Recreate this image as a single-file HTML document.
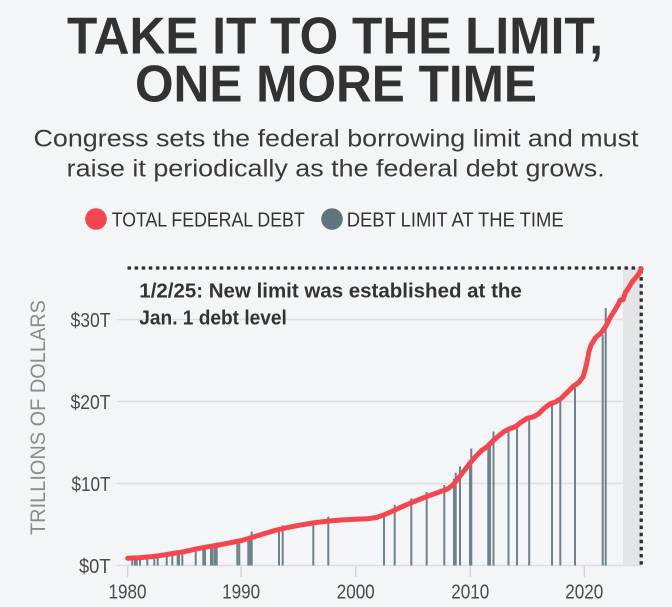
<!DOCTYPE html>
<html><head><meta charset="utf-8"><style>
html,body{margin:0;padding:0;background:#f4f5f7;}
svg{display:block;}
text{font-family:"Liberation Sans",sans-serif;}
</style></head><body>
<svg width="672" height="607" viewBox="0 0 672 607" xmlns="http://www.w3.org/2000/svg">
<rect width="672" height="607" fill="#f4f5f7"/>
<!-- Title -->
<text x="67" y="53.5" font-size="52" font-weight="bold" fill="#323232" textLength="536" lengthAdjust="spacingAndGlyphs">TAKE IT TO THE LIMIT,</text>
<text x="135" y="101.5" font-size="52" font-weight="bold" fill="#323232" textLength="402" lengthAdjust="spacingAndGlyphs">ONE MORE TIME</text>
<!-- Subtitle -->
<text x="33.5" y="146.7" font-size="24.5" fill="#3a3a3a" textLength="605" lengthAdjust="spacingAndGlyphs">Congress sets the federal borrowing limit and must</text>
<text x="66.7" y="176.7" font-size="24.5" fill="#3a3a3a" textLength="538" lengthAdjust="spacingAndGlyphs">raise it periodically as the federal debt grows.</text>
<!-- Legend -->
<circle cx="96" cy="219" r="10.8" fill="#f5464f"/>
<text x="111.7" y="226.7" font-size="20.5" fill="#333" textLength="193" lengthAdjust="spacingAndGlyphs">TOTAL FEDERAL DEBT</text>
<circle cx="332" cy="219" r="10.8" fill="#5f747c"/>
<text x="346.7" y="226.7" font-size="20.5" fill="#333" textLength="217" lengthAdjust="spacingAndGlyphs">DEBT LIMIT AT THE TIME</text>

<!-- Shaded area -->
<rect x="623" y="268" width="18.4" height="297.5" fill="#e4e5e6"/>
<!-- Gridlines -->
<g stroke="#dcdee1" stroke-width="1.5">
<line x1="116.7" y1="319.5" x2="623" y2="319.5"/>
<line x1="116.7" y1="401.5" x2="623" y2="401.5"/>
<line x1="116.7" y1="483.5" x2="623" y2="483.5"/>
<line x1="116.7" y1="565.5" x2="641" y2="565.5"/>
</g>
<!-- X ticks -->
<g stroke="#d3d6d9" stroke-width="1.5">
<line x1="127.7" y1="566" x2="127.7" y2="577"/>
<line x1="241.1" y1="566" x2="241.1" y2="577"/>
<line x1="355.7" y1="566" x2="355.7" y2="577"/>
<line x1="470.3" y1="566" x2="470.3" y2="577"/>
<line x1="584.3" y1="566" x2="584.3" y2="577"/>
</g>
<!-- Y tick labels -->
<g font-size="20.5" fill="#4a4a4a" text-anchor="end">
<text x="110.5" y="327" textLength="40" lengthAdjust="spacingAndGlyphs">$30T</text>
<text x="110.5" y="409" textLength="40" lengthAdjust="spacingAndGlyphs">$20T</text>
<text x="110.5" y="491" textLength="39" lengthAdjust="spacingAndGlyphs">$10T</text>
<text x="110.5" y="573" textLength="31.5" lengthAdjust="spacingAndGlyphs">$0T</text>
</g>
<!-- X labels -->
<g font-size="20.5" fill="#4a4a4a" text-anchor="middle">
<text x="127.5" y="598.3" textLength="38" lengthAdjust="spacingAndGlyphs">1980</text>
<text x="241.1" y="598.3" textLength="38" lengthAdjust="spacingAndGlyphs">1990</text>
<text x="355.7" y="598.3" textLength="38" lengthAdjust="spacingAndGlyphs">2000</text>
<text x="470.3" y="598.3" textLength="38" lengthAdjust="spacingAndGlyphs">2010</text>
<text x="584.3" y="598.3" textLength="38" lengthAdjust="spacingAndGlyphs">2020</text>
</g>
<!-- Y axis title -->
<text transform="translate(45,417.5) rotate(-90)" x="0" y="0" font-size="21" fill="#8a8c8e" text-anchor="middle" textLength="235" lengthAdjust="spacingAndGlyphs">TRILLIONS OF DOLLARS</text>

<!-- Debt limit bars -->
<g stroke="#6d8289" stroke-width="2">
<line x1="132.3" y1="565.5" x2="132.3" y2="557.9"/>
<line x1="135" y1="565.5" x2="135" y2="557.8"/>
<line x1="136.7" y1="565.5" x2="136.7" y2="557.4"/>
<line x1="140" y1="565.5" x2="140" y2="556.7"/>
<line x1="147.3" y1="565.5" x2="147.3" y2="556.1"/>
<line x1="154.3" y1="565.5" x2="154.3" y2="554.9"/>
<line x1="157.7" y1="565.5" x2="157.7" y2="554.1"/>
<line x1="166.7" y1="565.5" x2="166.7" y2="553.3"/>
<line x1="172.3" y1="565.5" x2="172.3" y2="553.0"/>
<line x1="177.7" y1="565.5" x2="177.7" y2="552.6"/>
<line x1="179" y1="565.5" x2="179" y2="552.0"/>
<line x1="182.3" y1="565.5" x2="182.3" y2="550.5"/>
<line x1="195.7" y1="565.5" x2="195.7" y2="548.5"/>
<line x1="203.3" y1="565.5" x2="203.3" y2="548.2"/>
<line x1="205" y1="565.5" x2="205" y2="546.6"/>
<line x1="211" y1="565.5" x2="211" y2="546.5"/>
<line x1="212.7" y1="565.5" x2="212.7" y2="546.2"/>
<line x1="215" y1="565.5" x2="215" y2="543.5"/>
<line x1="216.7" y1="565.5" x2="216.7" y2="542.5"/>
<line x1="237.3" y1="565.5" x2="237.3" y2="542.0"/>
<line x1="239.3" y1="565.5" x2="239.3" y2="539.9"/>
<line x1="248.3" y1="565.5" x2="248.3" y2="539.3"/>
<line x1="250" y1="565.5" x2="250" y2="539.0"/>
<line x1="251.7" y1="565.5" x2="251.7" y2="531.5"/>
<line x1="279" y1="565.5" x2="279" y2="529.7"/>
<line x1="282.7" y1="565.5" x2="282.7" y2="525.3"/>
<line x1="313.3" y1="565.5" x2="313.3" y2="520.4"/>
<line x1="328.3" y1="565.5" x2="328.3" y2="516.7"/>
<line x1="384" y1="565.5" x2="384" y2="513.5"/>
<line x1="394.7" y1="565.5" x2="394.7" y2="505.0"/>
<line x1="411.3" y1="565.5" x2="411.3" y2="498.4"/>
<line x1="426.7" y1="565.5" x2="426.7" y2="492.0"/>
<line x1="444.3" y1="565.5" x2="444.3" y2="485.0"/>
<line x1="454" y1="565.5" x2="454" y2="478.5"/>
<line x1="455.7" y1="565.5" x2="455.7" y2="472.7"/>
<line x1="460" y1="565.5" x2="460" y2="466.5"/>
<line x1="470" y1="565.5" x2="470" y2="463.9"/>
<line x1="471.3" y1="565.5" x2="471.3" y2="448.5"/>
<line x1="488.3" y1="565.5" x2="488.3" y2="446.5"/>
<line x1="490" y1="565.5" x2="490" y2="443"/>
<line x1="493.5" y1="565.5" x2="493.5" y2="431.5"/>
<line x1="508.5" y1="565.5" x2="508.5" y2="431.8"/>
<line x1="517" y1="565.5" x2="517" y2="428.5"/>
<line x1="529.2" y1="565.5" x2="529.2" y2="419"/>
<line x1="552" y1="565.5" x2="552" y2="403.3"/>
<line x1="560.3" y1="565.5" x2="560.3" y2="400"/>
<line x1="575" y1="565.5" x2="575" y2="387.7"/>
<line x1="602.7" y1="565.5" x2="602.7" y2="335"/>
<line x1="605.7" y1="565.5" x2="605.7" y2="308"/>
</g>

<!-- Dotted limit lines -->
<g stroke="#2f2f2f" stroke-width="3.3" stroke-dasharray="3.5 3.6" fill="none">
<line x1="127.5" y1="268" x2="643" y2="268"/>
<line x1="641.2" y1="270" x2="641.2" y2="565"/>
</g>

<!-- Total debt line -->
<polyline fill="none" stroke="#f5464f" stroke-width="5" stroke-linejoin="round" stroke-linecap="round" points="
127.7,558.3 139.1,557.7 150.5,556.8 161.9,555.3 173.4,553.4 184.8,551.6 196.2,548.9 207.6,546.8 219.0,545.0 230.4,542.7 241.9,540.5 253.3,537.0 264.7,533.5 276.1,530.2 287.5,527.6 298.9,525.3 310.3,523.4 321.8,521.8 333.2,520.6 344.6,519.7 356.0,519.3 367.4,518.8 376.5,517.5 384.4,514.7 390.2,512.2 401.6,506.9 413.0,502.0 424.4,497.4 435.8,493.3 447.2,489.2 452.9,485.1 458.7,477.8 464.4,470.4 470.1,463.0 475.8,456.4 481.5,450.7 487.2,446.6 492.9,440.9 498.6,435.9 504.3,431.4 510.0,428.6 515.7,426.5 521.4,422.0 527.1,418.3 532.9,417.1 538.6,413.8 544.3,408.1 550.0,404.0 555.7,401.9 561.4,398.2 567.1,392.5 572.8,386.7 578.5,382.6 583.1,376.9 586.5,364.6 588.8,352.3 591.1,344.9 595.7,337.5 601.4,332.6 605.9,326.1 610.5,317.0 615.1,309.7 618.5,303.9 620.2,300 623.1,299.8 625.4,292.4 628.8,287.5 632.2,281.8 635.7,277.7 639.1,273.6 641.2,268.7"/>

<!-- Annotation -->
<text x="139.3" y="297.7" font-size="20" font-weight="bold" fill="#333" textLength="382.5" lengthAdjust="spacingAndGlyphs">1/2/25: New limit was established at the</text>
<text x="139.3" y="324.3" font-size="20" font-weight="bold" fill="#333" textLength="147.5" lengthAdjust="spacingAndGlyphs">Jan. 1 debt level</text>
</svg>
</body></html>
